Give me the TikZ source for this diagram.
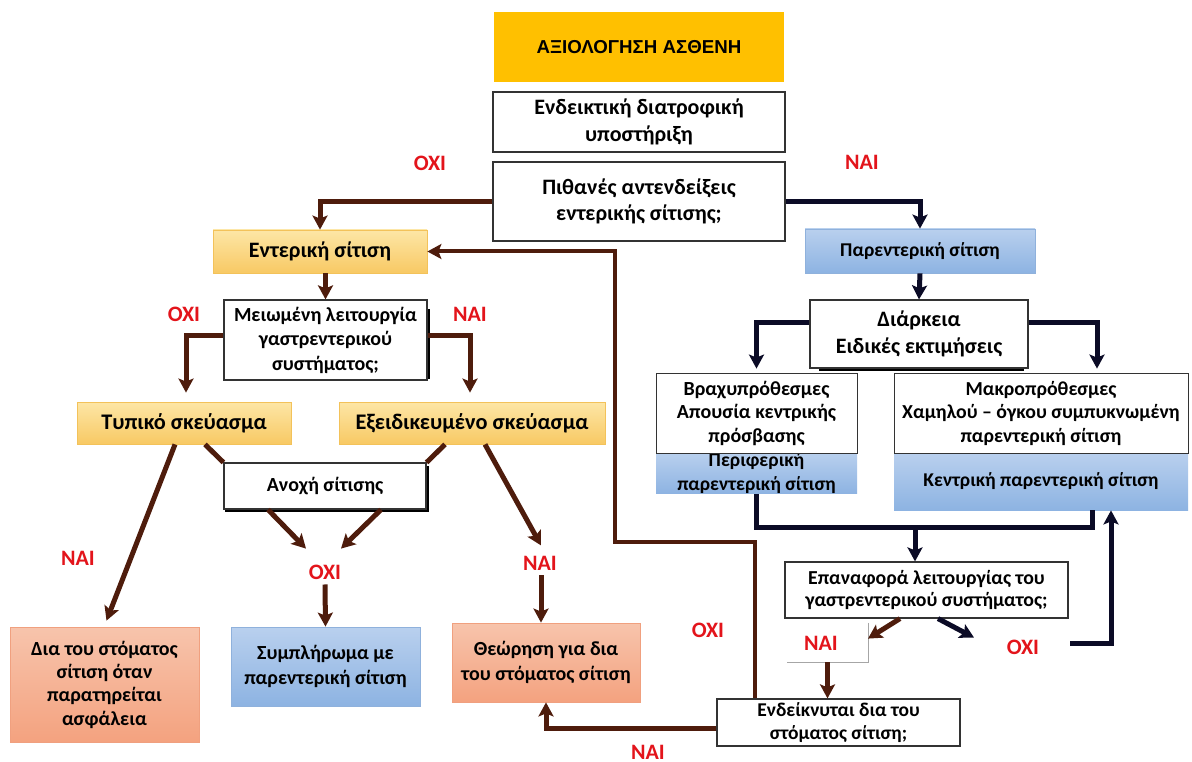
\documentclass[tikz,border=0pt]{standalone}
\usepackage{fontspec}
\setmainfont{Carlito}
\newfontfamily\hdfont{Liberation Sans}
\usetikzlibrary{arrows.meta,calc}
\definecolor{brn}{HTML}{4E1C0C}
\definecolor{nvy}{HTML}{0B0B26}
\definecolor{lbl}{HTML}{E3141B}
\definecolor{gold}{HTML}{FFC000}
\definecolor{oTop}{HTML}{FDE6A6}
\definecolor{oBot}{HTML}{F8C964}
\definecolor{oDr}{HTML}{F3C25A}
\definecolor{bTop}{HTML}{B9D0EE}
\definecolor{bBot}{HTML}{8DB3E2}
\definecolor{bDr}{HTML}{8FB1DC}
\definecolor{sTop}{HTML}{F7C4AC}
\definecolor{sBot}{HTML}{F4A27F}
\definecolor{sDr}{HTML}{F0A07F}
\begin{document}
\begin{tikzpicture}[x=1pt,y=-1pt,
  fs/.style 2 args={font=\bfseries\fontsize{#1}{#2}\selectfont},
  box/.style={draw=black!80, line width=1.2pt, fill=white, align=center, inner sep=0pt},
  obox/.style={box, draw=oDr, line width=0.8pt, top color=oTop, bottom color=oBot},
  bbox/.style={box, draw=bDr, line width=0.8pt, top color=bTop, bottom color=bBot},
  sbox/.style={box, draw=sDr, line width=0.8pt, top color=sTop, bottom color=sBot},
  lab/.style={text=lbl, inner sep=1pt, font=\bfseries\fontsize{22}{26}\selectfont},
  tip/.style={-{Stealth[length=14pt,width=15pt,inset=3pt]}},
  bl/.style={draw=brn, line width=5pt},
  nl/.style={draw=nvy, line width=5pt},
  ba/.style={bl, tip},
  na/.style={nl, tip}]
\fill[white] (0,0) rectangle (1192,762);
\useasboundingbox (0,0) rectangle (1192,762);

% nodes
\node[inner sep=0pt, fill=gold, font=\hdfont\bfseries\fontsize{18.7}{22}\selectfont, minimum width=290pt, minimum height=70pt] (head) at (639,47) {ΑΞΙΟΛΟΓΗΣΗ ΑΣΘΕΝΗ};
\node[box, fs={22}{26.7}, minimum width=292pt, minimum height=60pt] (ind) at (639,122) {Ενδεικτική διατροφική\\υποστήριξη};
\node[box, fs={22}{26.7}, minimum width=292pt, minimum height=79pt] (ant) at (639,201.5) {Πιθανές αντενδείξεις\\εντερικής σίτισης;};
\node[obox, fs={22}{26}, minimum width=214pt, minimum height=43pt] (ent) at (320,251.5) {Εντερική σίτιση};
\node[bbox, fs={19.5}{23}, minimum width=230pt, minimum height=44pt] (par) at (920,251) {Παρεντερική σίτιση};
\node[box, fs={20}{24.5}, minimum width=203pt, minimum height=80pt] (mei) at (325.5,340) {Μειωμένη λειτουργία\\γαστρεντερικού\\συστήματος;};
\node[obox, fs={22.3}{26}, minimum width=214pt, minimum height=42pt] (typ) at (184,423) {Τυπικό σκεύασμα};
\node[obox, fs={22.3}{26}, minimum width=266pt, minimum height=42pt] (exe) at (472,423) {Εξειδικευμένο σκεύασμα};
\node[box, fs={20}{24}, minimum width=202pt, minimum height=46pt] (ano) at (325,486) {Ανοχή σίτισης};
\node[sbox, fs={20}{23.3}, minimum width=189pt, minimum height=115pt] (dia) at (104.5,684.5) {Δια του στόματος\\σίτιση όταν\\παρατηρείται\\ασφάλεια};
\node[bbox, fs={20}{24.3}, minimum width=189pt, minimum height=79pt] (sym) at (325.5,666.5) {Συμπλήρωμα με\\παρεντερική σίτιση};
\node[sbox, fs={20}{24.3}, minimum width=188pt, minimum height=79pt] (the) at (546,662.5) {Θεώρηση για δια\\του στόματος σίτιση};
\node[box, fs={22}{27}, minimum width=218pt, minimum height=68pt] (dur) at (919,334) {Διάρκεια\\Ειδικές εκτιμήσεις};
\node[bbox, fs={19.5}{24}, minimum width=201pt, minimum height=40pt, draw=none] (per) at (756.5,473) {Περιφερική\\παρεντερική σίτιση};
\node[box, fs={20}{23.5}, line width=0.8pt, minimum width=201pt, minimum height=80pt] (bra) at (756.5,413) {Βραχυπρόθεσμες\\Απουσία κεντρικής\\πρόσβασης};
\node[bbox, fs={19.5}{23}, minimum width=294pt, minimum height=57pt, draw=none] (ken) at (1041,481.5) {Κεντρική παρεντερική σίτιση};
\node[box, fs={19.8}{23.5}, line width=0.8pt, minimum width=294pt, minimum height=80pt] (mak) at (1041,413) {Μακροπρόθεσμες\\Χαμηλού – όγκου συμπυκνωμένη\\παρεντερική σίτιση};
\node[box, fs={19.8}{22}, minimum width=283pt, minimum height=56pt] (epa) at (926.5,590) {Επαναφορά λειτουργίας του\\γαστρεντερικού συστήματος;};
\node[box, fs={19.5}{23.3}, minimum width=243pt, minimum height=47pt] (end) at (838.5,722.5) {Ενδείκνυται δια του\\στόματος σίτιση;};
\node[inner sep=0pt, fill=white, minimum width=81pt, minimum height=39pt] (naibox) at (827.5,642.5) {};
\draw[black!35, line width=0.6pt] (naibox.north east) -- (naibox.south east) -- (naibox.south west);

% shadows
\draw[black, line width=2pt] ($(mei.north east)+(1.5,10)$) -- ($(mei.south east)+(1.5,-2)$);
\draw[black, line width=2pt] ($(dur.south west)+(10,1.5)$) -- ($(dur.south east)+(-5,1.5)$);
\draw[black, line width=2pt] ($(ano.south west)+(2,1.5)$) -- ($(ano.south east)+(1.5,1.5)$) -- ($(ano.north east)+(1.5,4)$);

% labels
\node[lab] (oxi0) at (430,163) {ΟΧΙ};
\node[lab] (nai0) at (862,162) {ΝΑΙ};
\node[lab] (oxi1) at (184,314) {ΟΧΙ};
\node[lab] (nai1) at (470,314) {ΝΑΙ};
\node[lab] (nai2) at (78,558) {ΝΑΙ};
\node[lab] (oxi2) at (325,572) {ΟΧΙ};
\node[lab] (nai3) at (540,563) {ΝΑΙ};
\node[lab] (oxi3) at (708,630) {ΟΧΙ};
\node[lab] (nai4) at (821,643) {ΝΑΙ};
\node[lab] (oxi4) at (1023,647) {ΟΧΙ};
\node[lab] (nai5) at (648,752) {ΝΑΙ};

\coordinate (j1) at (915,527);
\coordinate (k1) at (615,542);
\coordinate (r1) at (1070,643);

% connectors - left (brown)
\draw[ba] (ant.west) -| (ent.north);
\draw[ba] (mei.north |- ent.south) -- (mei.north);
\draw[ba] ($(mei.west)+(0,-5)$) -| ($(typ.north)+(2,-9)$);
\draw[ba] ($(mei.east)+(0,-5)$) -| ($(exe.north)+(-2,-9)$);
\draw[ba] ($(typ.south)+(-9,0)$) -- ($(dia.north)+(2,-6)$);
\draw[bl] ($(typ.south)+(21,0)$) -- (ano.north west);
\draw[bl] ($(exe.south)+(-27,0)$) -- (ano.north east);
\draw[ba] ($(exe.south)+(13,0)$) -- ($(exe.south)+(69,101)$);
\draw[ba] ($(ano.south)+(-57,0)$) -- ($(ano.south)+(-19,39)$);
\draw[ba] ($(ano.south)+(56,0)$) -- ($(ano.south)+(16,39)$);
\draw[ba] ($(oxi2.south)+(0,4)$) -- (sym.north);
\draw[ba] ($(nai3.south)+(1,4)$) -- ($(the.north)+(-5,0)$);
% right (navy)
\draw[na] (ant.east) -| (par.north);
\draw[na] (par.south) -- (dur.north);
\draw[na] ($(dur.west)+(0,-12)$) -| ($(bra.north)+(0,-4)$);
\draw[na] ($(dur.east)+(0,-12)$) -| ($(mak.north)+(56,-4)$);
\draw[nl] (per.south) |- ($(ken.south)+(51,17)$) -- ($(ken.south)+(51,0)$);
\draw[na] (j1) -- (j1 |- epa.north);
\draw[na] ($(epa.south)+(11.5,0)$) -- ($(epa.south)+(47.5,19)$);
\draw[na] (r1) -| ($(ken.south)+(70,0)$);
\draw[ba] ($(epa.south)+(-26.5,0)$) -- ($(epa.south)+(-58.5,20)$);
\draw[ba] (naibox.south) -- (naibox.south |- end.north);
\draw[ba] ($(end.west)+(0,5.5)$) -| (the.south);
\draw[bl, line width=4pt, tip] ($(end.north)+(-83.5,0)$) |- (k1) |- (ent.east);
\end{tikzpicture}
\end{document}
